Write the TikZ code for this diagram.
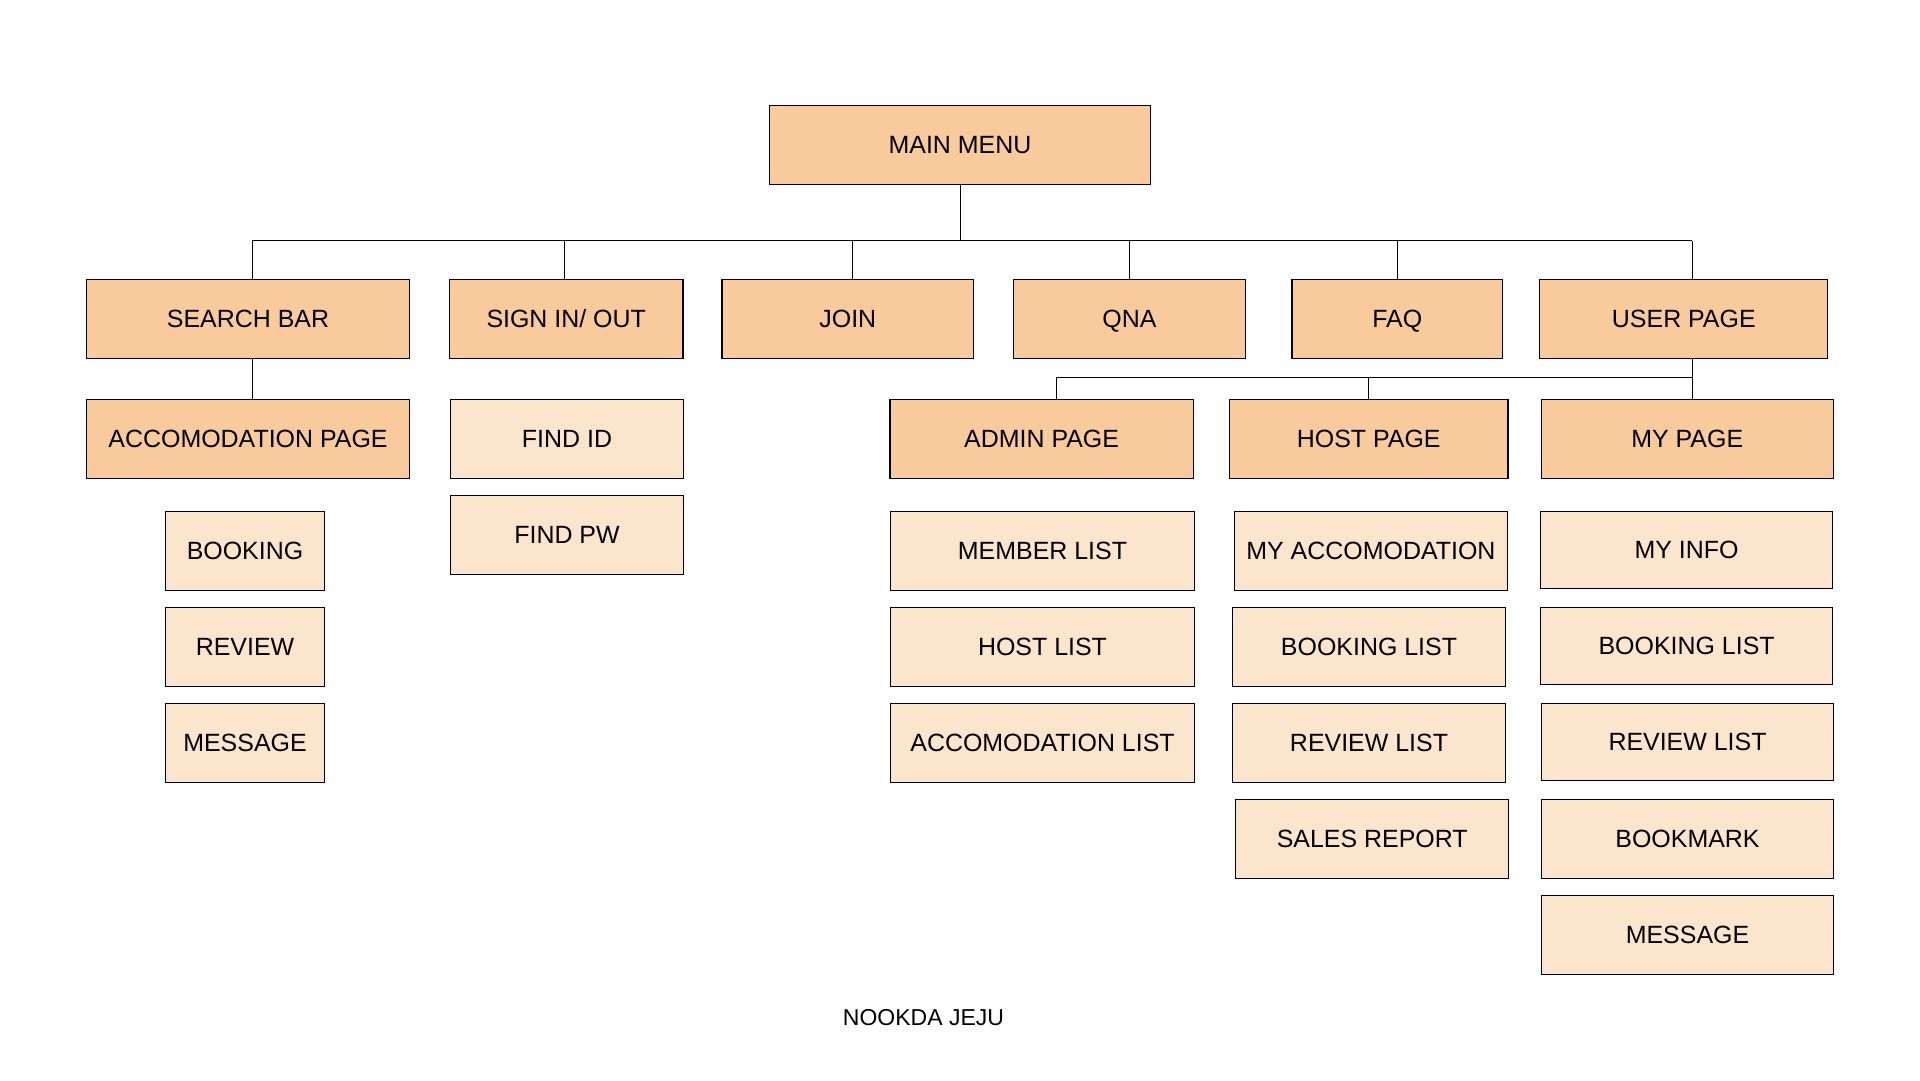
\documentclass[tikz,border=0pt]{standalone}
\usepackage{fontspec}
\setmainfont{Liberation Sans}
\usepackage{tikz}
\definecolor{menu}{RGB}{249, 203, 156}
\definecolor{submenu}{RGB}{252, 229, 205}

\begin{document}
\begin{tikzpicture}[x=0.02cm, y=-0.02cm, line width=0.5pt,
  menubox/.style={draw, line width=0.7pt, fill=menu, minimum height=1.58cm,
                  inner sep=0pt, text height=10.2pt, text depth=0pt,
                  font=\fontsize{14.2}{17}\selectfont},
  subbox/.style={menubox, fill=submenu}]
  \useasboundingbox (0, 0) rectangle (1920, 1080);

  \node[menubox, minimum width=7.61cm] (main) at (960, 144.8) {MAIN MENU};

  % first level
  \node[menubox, minimum width=6.47cm] (search) at (248, 318.9) {SEARCH BAR};
  \node[menubox, minimum width=4.67cm] (signin) at (566.2, 318.9) {SIGN IN/ OUT};
  \node[menubox, minimum width=5.03cm] (join) at (847.8, 318.9) {JOIN};
  \node[menubox, minimum width=4.64cm] (qna) at (1129.4, 318.9) {QNA};
  \node[menubox, minimum width=4.21cm] (faq) at (1397.3, 318.9) {FAQ};
  \node[menubox, minimum width=5.76cm] (user) at (1683.8, 318.9) {USER PAGE};

  % second level
  \node[menubox, minimum width=6.47cm] (accpage) at (248, 438.9) {ACCOMODATION PAGE};
  \node[subbox, minimum width=4.65cm] (findid) at (567, 438.9) {FIND ID};
  \node[subbox, minimum width=4.65cm] (findpw) at (567, 534.8) {FIND PW};
  \node[menubox, minimum width=6.07cm] (admin) at (1041.6, 438.9) {ADMIN PAGE};
  \node[menubox, minimum width=5.57cm] (host) at (1368.7, 438.9) {HOST PAGE};
  \node[menubox, minimum width=5.84cm] (mypage) at (1687.2, 438.9) {MY PAGE};

  % accomodation page items
  \node[subbox, minimum width=3.19cm] (booking) at (245, 550.8) {BOOKING};
  \node[subbox, minimum width=3.19cm] (review) at (245, 646.9) {REVIEW};
  \node[subbox, minimum width=3.19cm] (message) at (245, 742.7) {MESSAGE};

  % admin page items
  \node[subbox, minimum width=6.08cm] (memberlist) at (1042.5, 550.8) {MEMBER LIST};
  \node[subbox, minimum width=6.08cm] (hostlist) at (1042.5, 646.9) {HOST LIST};
  \node[subbox, minimum width=6.08cm] (acclist) at (1042.5, 742.7) {ACCOMODATION LIST};

  % host page items
  \node[subbox, minimum width=5.46cm] (myacc) at (1370.9, 550.8) {MY ACCOMODATION};
  \node[subbox, minimum width=5.46cm] (hbooking) at (1369, 646.9) {BOOKING LIST};
  \node[subbox, minimum width=5.46cm] (hreview) at (1369, 742.7) {REVIEW LIST};
  \node[subbox, minimum width=5.46cm] (sales) at (1372.2, 838.8) {SALES REPORT};

  % my page items
  \node[subbox, minimum width=5.84cm, minimum height=1.54cm] (myinfo) at (1686.6, 549.9) {MY INFO};
  \node[subbox, minimum width=5.84cm, minimum height=1.54cm] (mbooking) at (1686.6, 645.8) {BOOKING LIST};
  \node[subbox, minimum width=5.83cm, minimum height=1.54cm] (mreview) at (1687.5, 741.7) {REVIEW LIST};
  \node[subbox, minimum width=5.83cm] (bookmark) at (1687.5, 838.8) {BOOKMARK};
  \node[subbox, minimum width=5.83cm] (mmessage) at (1687.5, 934.8) {MESSAGE};

  \node[font=\fontsize{13.1}{16}\selectfont] (title) at (923.5, 1018) {NOOKDA JEJU};

  % connectors
  \draw (main.south) -- ++(0, 56) coordinate (bus);
  \coordinate (usertap) at ([xshift=0.1cm]mypage.north);
  \draw ([xshift=0.08cm]search.north |- bus) -- (usertap |- bus);
  \foreach \n/\dx in {search/0.08, signin/-0.04, join/0.09, qna/0, faq/0}
    \draw ([xshift=\dx cm]\n.north) -- ([xshift=\dx cm]\n.north |- bus);
  \draw (usertap |- bus) -- (usertap |- user.north);
  \draw ([xshift=0.08cm]search.south) -- ([xshift=0.08cm]accpage.north);

  \path (user.south) ++(0, 18) coordinate (bus2);
  \draw (usertap |- user.south) -- (usertap);
  \draw ([xshift=0.3cm]admin.north) |- (bus2 -| usertap);
  \draw (host.north) -- (host.north |- bus2);

\end{tikzpicture}
\end{document}
